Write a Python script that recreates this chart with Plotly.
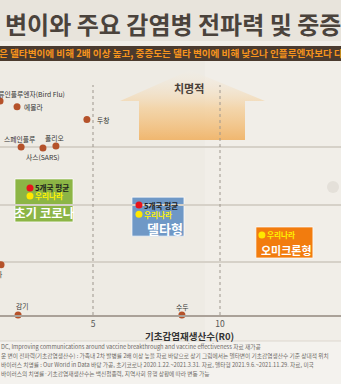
import math
import plotly.graph_objects as go

# ---------------- data ----------------
diseases = ["조류인플루엔자(Bird Flu)", "메르스(MERS)", "에볼라", "두창", "스페인플루",
            "사스(SARS)", "폴리오", "인플루엔자", "감기", "수두"]
disease_r0 = [1.34, 0.90, 2.01, 4.76, 2.17, 3.03, 3.54, 1.38, 2.05, 8.5]
disease_fatality = [63, 40, 50, 30, 10, 9.6, 10.4, 0.09, 0.012, 0.012]

variants = ["초기 코로나", "델타형", "오미크론형"]
avg5_r0 = [2.52, 6.81, None]
avg5_fatality = [1.94, 0.98, None]
kr_r0 = [2.52, 6.81, 11.65]
kr_fatality = [1.41, 0.68, 0.295]

x_ticks = [5, 10]
x_tick_labels = ["5", "10"]
y_grid = [10, 1, 0.1]

title_text = "변이와 주요 감염병 전파력 및 중증도"
subtitle_text = "은 델타변이에 비해 2배 이상 높고, 중증도는 델타 변이에 비해 낮으나 인플루엔자보다 다소 높은 수준"
x_title = "기초감염재생산수(R0)"
arrow_label = "치명적"
avg_label = "5개국 평균"
kr_label = "우리나라"
footnotes = [
    "DC, Improving communications around vaccine breakthrough and vaccine effectiveness 자료 재가공",
    "운 변이 전파력(기초감염생산수) : 가족내 2차 발병률 2배 이상 높을 자료 바탕으로 상기 그림에서는 델타변이 기초감염생산수 기준 상대적 위치",
    "바이러스 치명률 : Our World in Data 바탕 가공, 초기코로나 2020.1.22.~2021.3.31. 자료, 델타형 2021.9.6.~2021.11.29. 자료, 미국",
    "바이러스의 치명률·기초감염재생산수는 백신접종력, 지역사회 유행 상황에 따라 변동 가능",
]

# ---------------- style ----------------
W, H = 341, 384
PLOT_TOP, PLOT_BOT = 62, 315
PX_PER_DECADE = 57.5
KR = "Noto Sans CJK KR"


def PX(x):
    return x / W


def PY(y):
    return (PLOT_BOT - y) / (PLOT_BOT - PLOT_TOP)


def lg(v):
    return math.log10(v)


def shift_val(v, dpx):
    # value displaced by dpx pixels (up positive) on the log axis
    return 10 ** (math.log10(v) + dpx / PX_PER_DECADE)


# label offsets (style): (xanchor, xshift, yshift)
label_pos = [("right", 67, 7), ("right", 10, 5), ("left", 5, 0), ("left", 8, 0),
             ("center", -2, 8), ("center", 0, -9), ("center", -1, 8),
             ("right", 4, -9), ("center", 4, 9), ("center", 1, 8)]
box_colors = ["#8cb545", "#6f98c6", "#f27c0e"]
box_rel = [(-15, 43, 17, -26), (-7, 45, 17, -22), (-6, 51, 8, -23)]
title_rel = [(14, -17, 12.5), (26, -14, 13), (25, -15, 11)]

fig = go.Figure()

# decorative arrow on pixel overlay axes
arrow_x = [190, 265, 245, 245, 139, 139, 120, 190]
arrow_y = [70, 101, 101, 140, 140, 101, 101, 70]
fig.add_trace(go.Scatter(
    x=arrow_x, y=arrow_y, xaxis="x2", yaxis="y2", mode="lines",
    line=dict(width=0), fill="toself",
    fillgradient=dict(type="vertical", start=70, stop=140,
                      colorscale=[[0, "rgba(242,238,230,0.2)"],
                                  [0.55, "rgba(244,205,150,0.75)"],
                                  [1, "rgba(240,180,105,0.95)"]]),
    hoverinfo="skip", showlegend=False))

fig.add_trace(go.Scatter(
    x=disease_r0, y=disease_fatality, mode="markers",
    marker=dict(size=7, color="#b5522a"), cliponaxis=False,
    showlegend=False, hoverinfo="text", text=diseases))

fig.add_trace(go.Scatter(
    x=avg5_r0, y=avg5_fatality, mode="markers",
    marker=dict(size=7, color="#e8141c"), cliponaxis=False, showlegend=False))
fig.add_trace(go.Scatter(
    x=kr_r0, y=kr_fatality, mode="markers",
    marker=dict(size=7, color="#ffe800"), cliponaxis=False, showlegend=False))

shapes = []
annotations = []

# bands
shapes.append(dict(type="rect", xref="paper", yref="paper", x0=0, x1=1,
                   y0=PY(0), y1=PY(46), fillcolor="#e8e4dc", line_width=0, layer="below"))
shapes.append(dict(type="rect", xref="paper", yref="paper", x0=0, x1=1,
                   y0=PY(41), y1=PY(46), fillcolor="#f1eee8", line_width=0, layer="below"))
shapes.append(dict(type="rect", xref="paper", yref="paper", x0=0, x1=1,
                   y0=PY(46), y1=PY(61), fillcolor="#4a3a2e", line_width=0, layer="below"))
shapes.append(dict(type="rect", xref="paper", yref="paper", x0=0.6, x1=1,
                   y0=PY(61), y1=PY(341), fillcolor="rgba(246,244,240,0.35)", line_width=0,
                   layer="below"))
shapes.append(dict(type="rect", xref="paper", yref="paper", x0=0, x1=1,
                   y0=PY(341), y1=PY(384), fillcolor="#f4f2ee", line_width=0, layer="below"))
shapes.append(dict(type="line", xref="paper", yref="paper", x0=0, x1=1,
                   y0=PY(341), y1=PY(341), line=dict(color="#dcd7cf", width=1), layer="below"))
# faint sun icon
shapes.append(dict(type="circle", xref="paper", yref="paper", x0=PX(327), x1=PX(339),
                   y0=PY(181), y1=PY(193), fillcolor="#e4e0d9", line_width=0, layer="below"))

# dotted vertical reference lines
for xv in x_ticks:
    shapes.append(dict(type="line", xref="x", yref="paper", x0=xv, x1=xv,
                       y0=0, y1=PY(85), line=dict(color="#9d968d", width=1, dash="dot"),
                       layer="above"))

# variant boxes
for i, name in enumerate(variants):
    dx0, dx1, dy1, dy0 = box_rel[i]
    shapes.append(dict(type="rect", xref="x", yref="y",
                       xsizemode="pixel", xanchor=kr_r0[i],
                       x0=dx0, x1=dx1,
                       y0=shift_val(kr_fatality[i], dy0), y1=shift_val(kr_fatality[i], dy1),
                       fillcolor=box_colors[i],
                       line=dict(color="rgba(255,255,255,0.7)", width=1), layer="below"))
    xs, ys, fs = title_rel[i]
    annotations.append(dict(x=kr_r0[i], y=lg(kr_fatality[i]), xref="x", yref="y",
                            text="<b>%s</b>" % name, showarrow=False,
                            xanchor="center", yanchor="middle", xshift=xs, yshift=ys,
                            font=dict(family=KR, size=fs, color="white")))
    annotations.append(dict(x=kr_r0[i], y=lg(kr_fatality[i]), xref="x", yref="y",
                            text="<b>%s</b>" % kr_label, showarrow=False,
                            xanchor="left", yanchor="middle", xshift=3, yshift=0,
                            font=dict(family=KR, size=7.6, color="#fff200")))
    if avg5_r0[i] is not None:
        annotations.append(dict(x=avg5_r0[i], y=lg(avg5_fatality[i]), xref="x", yref="y",
                                text="<b>%s</b>" % avg_label, showarrow=False,
                                xanchor="left", yanchor="middle", xshift=3, yshift=0,
                                font=dict(family=KR, size=7.6, color="#1e1e1e")))

# disease labels
for i, name in enumerate(diseases):
    xa, xs, ys = label_pos[i]
    annotations.append(dict(x=disease_r0[i], y=lg(disease_fatality[i]), xref="x", yref="y",
                            text=name, showarrow=False, xanchor=xa, yanchor="middle",
                            xshift=xs, yshift=ys,
                            font=dict(family=KR, size=6.8, color="#333333")))

# titles
annotations.append(dict(x=PX(3), y=PY(24), xref="paper", yref="paper", text="<b>%s</b>" % title_text,
                        showarrow=False, xanchor="left", yanchor="middle",
                        font=dict(family=KR, size=24, color="#4b433c")))
annotations.append(dict(x=PX(-3), y=PY(53.5), xref="paper", yref="paper",
                        text="<b>%s</b>" % subtitle_text,
                        showarrow=False, xanchor="left", yanchor="middle",
                        font=dict(family=KR, size=9.6, color="#f7941d")))
annotations.append(dict(x=PX(189), y=PY(88), xref="paper", yref="paper",
                        text="<b>%s</b>" % arrow_label,
                        showarrow=False, xanchor="center", yanchor="middle",
                        font=dict(family=KR, size=11, color="#4a4038")))
annotations.append(dict(x=PX(190), y=PY(336), xref="paper", yref="paper",
                        text="<b>%s</b>" % x_title,
                        showarrow=False, xanchor="center", yanchor="middle",
                        font=dict(family=KR, size=9.5, color="#333333")))
for k, line in enumerate(footnotes):
    annotations.append(dict(x=PX(-1), y=PY(346 + 9 * k), xref="paper", yref="paper",
                            text=line, showarrow=False, xanchor="left", yanchor="middle",
                            font=dict(family=KR, size=5.7, color="#6e6a66")))

fig.update_layout(
    width=W, height=H, autosize=False,
    margin=dict(l=0, r=0, t=PLOT_TOP, b=H - PLOT_BOT, pad=0),
    paper_bgcolor="#eeebe4", plot_bgcolor="#eeebe4",
    showlegend=False,
    xaxis=dict(range=[34 / 25.4, (W + 34) / 25.4], tickvals=x_ticks, ticktext=x_tick_labels,
               showgrid=False, zeroline=False, showline=True, linecolor="#aaa198",
               linewidth=2, ticks="", tickfont=dict(family=KR, size=8.5, color="#555555"),
               fixedrange=True),
    yaxis=dict(type="log", range=[(204.5 - PLOT_BOT) / PX_PER_DECADE, (204.5 - PLOT_TOP) / PX_PER_DECADE],
               tickvals=y_grid, showticklabels=False, showgrid=True,
               gridcolor="#d6d1c8", gridwidth=2, zeroline=False, showline=False,
               fixedrange=True),
    xaxis2=dict(overlaying="x", range=[0, W], visible=False, fixedrange=True),
    yaxis2=dict(overlaying="y", range=[PLOT_BOT, PLOT_TOP], visible=False, fixedrange=True),
    shapes=shapes, annotations=annotations,
)

fig.write_html("out.html")
